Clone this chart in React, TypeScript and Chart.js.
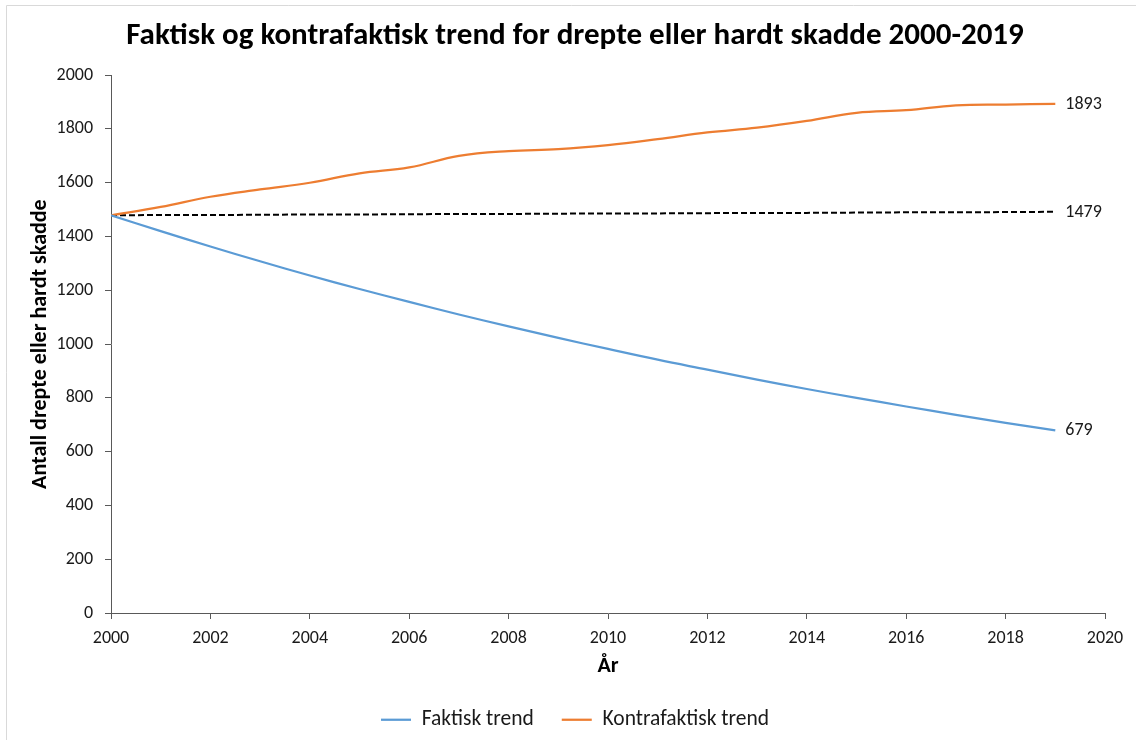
import React, { useEffect, useRef } from "react";
import { Chart, registerables } from "chart.js";

Chart.register(...registerables);

const years = [2000, 2001, 2002, 2003, 2004, 2005, 2006, 2007, 2008, 2009, 2010, 2011, 2012, 2013, 2014, 2015, 2016, 2017, 2018, 2019];
const faktisk = [1479, 1420, 1363, 1308, 1255, 1205, 1157, 1110, 1066, 1023, 982, 942, 905, 868, 833, 800, 768, 737, 707, 679];
const kontrafaktisk = [1479, 1510, 1548, 1575, 1600, 1635, 1657, 1700, 1718, 1725, 1740, 1762, 1787, 1805, 1830, 1860, 1870, 1888, 1891, 1893];
const referanse = [1479, 1480, 1480, 1481, 1482, 1482, 1483, 1484, 1484, 1485, 1486, 1486, 1487, 1488, 1488, 1489, 1490, 1490, 1491, 1492];
const endLabels = ["679", "1893", "1479"];
const seriesNames = ["Faktisk trend", "Kontrafaktisk trend", ""];

const FONT = "Carlito, Lato, sans-serif";
const TEXT = "#1a1a1a";
const AXIS = "#595959";

const endLabelPlugin = {
  id: "endLabels",
  afterDatasetsDraw(chart: any) {
    const ctx = chart.ctx;
    ctx.save();
    ctx.font = `18px ${FONT}`;
    ctx.fillStyle = TEXT;
    ctx.textAlign = "left";
    ctx.textBaseline = "middle";
    chart.data.datasets.forEach((ds: any, i: number) => {
      const meta = chart.getDatasetMeta(i);
      const pt = meta.data[meta.data.length - 1];
      if (pt) ctx.fillText(endLabels[i], pt.x + 10, pt.y + 0.5);
    });
    ctx.restore();
  },
};

const framePlugin = {
  id: "frame",
  beforeDraw(chart: any) {
    const ctx = chart.ctx;
    ctx.save();
    ctx.strokeStyle = "#d9d9d9";
    ctx.lineWidth = 1;
    ctx.beginPath();
    ctx.moveTo(6.5, chart.height);
    ctx.lineTo(6.5, 5.5);
    ctx.lineTo(chart.width, 5.5);
    ctx.stroke();
    ctx.restore();
  },
};

export default function App() {
  const ref = useRef<HTMLCanvasElement>(null);
  useEffect(() => {
    if (!ref.current) return;
    const mk = (arr: number[]) => arr.map((v, i) => ({ x: years[i], y: v }));
    const chart = new Chart(ref.current, {
      type: "line",
      data: {
        datasets: [
          {
            label: seriesNames[0],
            data: mk(faktisk),
            borderColor: "#5B9BD5",
            backgroundColor: "#5B9BD5",
            borderWidth: 2.25,
            pointRadius: 0,
            tension: 0.4,
          },
          {
            label: seriesNames[1],
            data: mk(kontrafaktisk),
            borderColor: "#ED7D31",
            backgroundColor: "#ED7D31",
            borderWidth: 2.25,
            pointRadius: 0,
            tension: 0.4,
          },
          {
            label: seriesNames[2],
            data: mk(referanse),
            borderColor: "#000000",
            backgroundColor: "#000000",
            borderWidth: 2,
            borderDash: [6, 3],
            pointRadius: 0,
            tension: 0,
          },
        ],
      },
      options: {
        animation: false,
        responsive: false,
        layout: { padding: { left: 14, right: 0, top: 0, bottom: 0 } },
        plugins: {
          title: {
            display: true,
            text: "Faktisk og kontrafaktisk trend for drepte eller hardt skadde 2000-2019",
            font: { family: FONT, size: 31, weight: "bold" },
            color: "#000000",
            padding: { top: 18, bottom: 20 },
          },
          legend: {
            position: "bottom",
            maxHeight: 59,
            labels: {
              filter: (item: any) => item.datasetIndex < 2,
              usePointStyle: true,
              pointStyle: "line",
              pointStyleWidth: 30,
              boxWidth: 30,
              boxHeight: 20,
              padding: 28,
              color: TEXT,
              font: { family: FONT, size: 21.5 },
            },
          },
          tooltip: { enabled: false },
        },
        scales: {
          x: {
            type: "linear",
            min: 2000,
            max: 2020,
            afterFit: (s: any) => {
              s.height = 68;
            },
            ticks: {
              stepSize: 2,
              padding: 9,
              color: TEXT,
              font: { family: FONT, size: 18 },
              callback: (v: any) => String(v),
            },
            grid: { drawOnChartArea: false, drawTicks: true, tickLength: 6, color: AXIS },
            border: { color: AXIS, width: 1 },
            title: {
              display: true,
              text: "År",
              color: "#000000",
              font: { family: FONT, size: 22, weight: "bold" },
              padding: { top: 0, bottom: 1 },
            },
          },
          y: {
            min: 0,
            max: 2000,
            afterFit: (s: any) => {
              s.width = 97;
            },
            ticks: {
              stepSize: 200,
              padding: 12,
              color: TEXT,
              font: { family: FONT, size: 18 },
              callback: (v: any) => String(v),
            },
            grid: { drawOnChartArea: false, drawTicks: true, tickLength: 6, color: AXIS },
            border: { color: AXIS, width: 1 },
            title: {
              display: true,
              text: "Antall drepte eller hardt skadde",
              color: "#000000",
              font: { family: FONT, size: 22, weight: "bold" },
              padding: { top: 13, bottom: 0 },
            },
          },
          spacer: {
            type: "linear",
            position: "right",
            display: true,
            afterFit: (s: any) => {
              s.width = 31;
            },
            ticks: { display: false },
            grid: { display: false, drawTicks: false },
            border: { display: false },
            title: { display: false },
          },
        },
      },
      plugins: [endLabelPlugin, framePlugin],
    } as any);
    return () => chart.destroy();
  }, []);
  return (
    <div style={{ position: "absolute", left: 0, top: 0, width: 1136, height: 740, background: "#fff" }}>
      <canvas ref={ref} width={1136} height={740} style={{ width: 1136, height: 740, display: "block" }} />
    </div>
  );
}
